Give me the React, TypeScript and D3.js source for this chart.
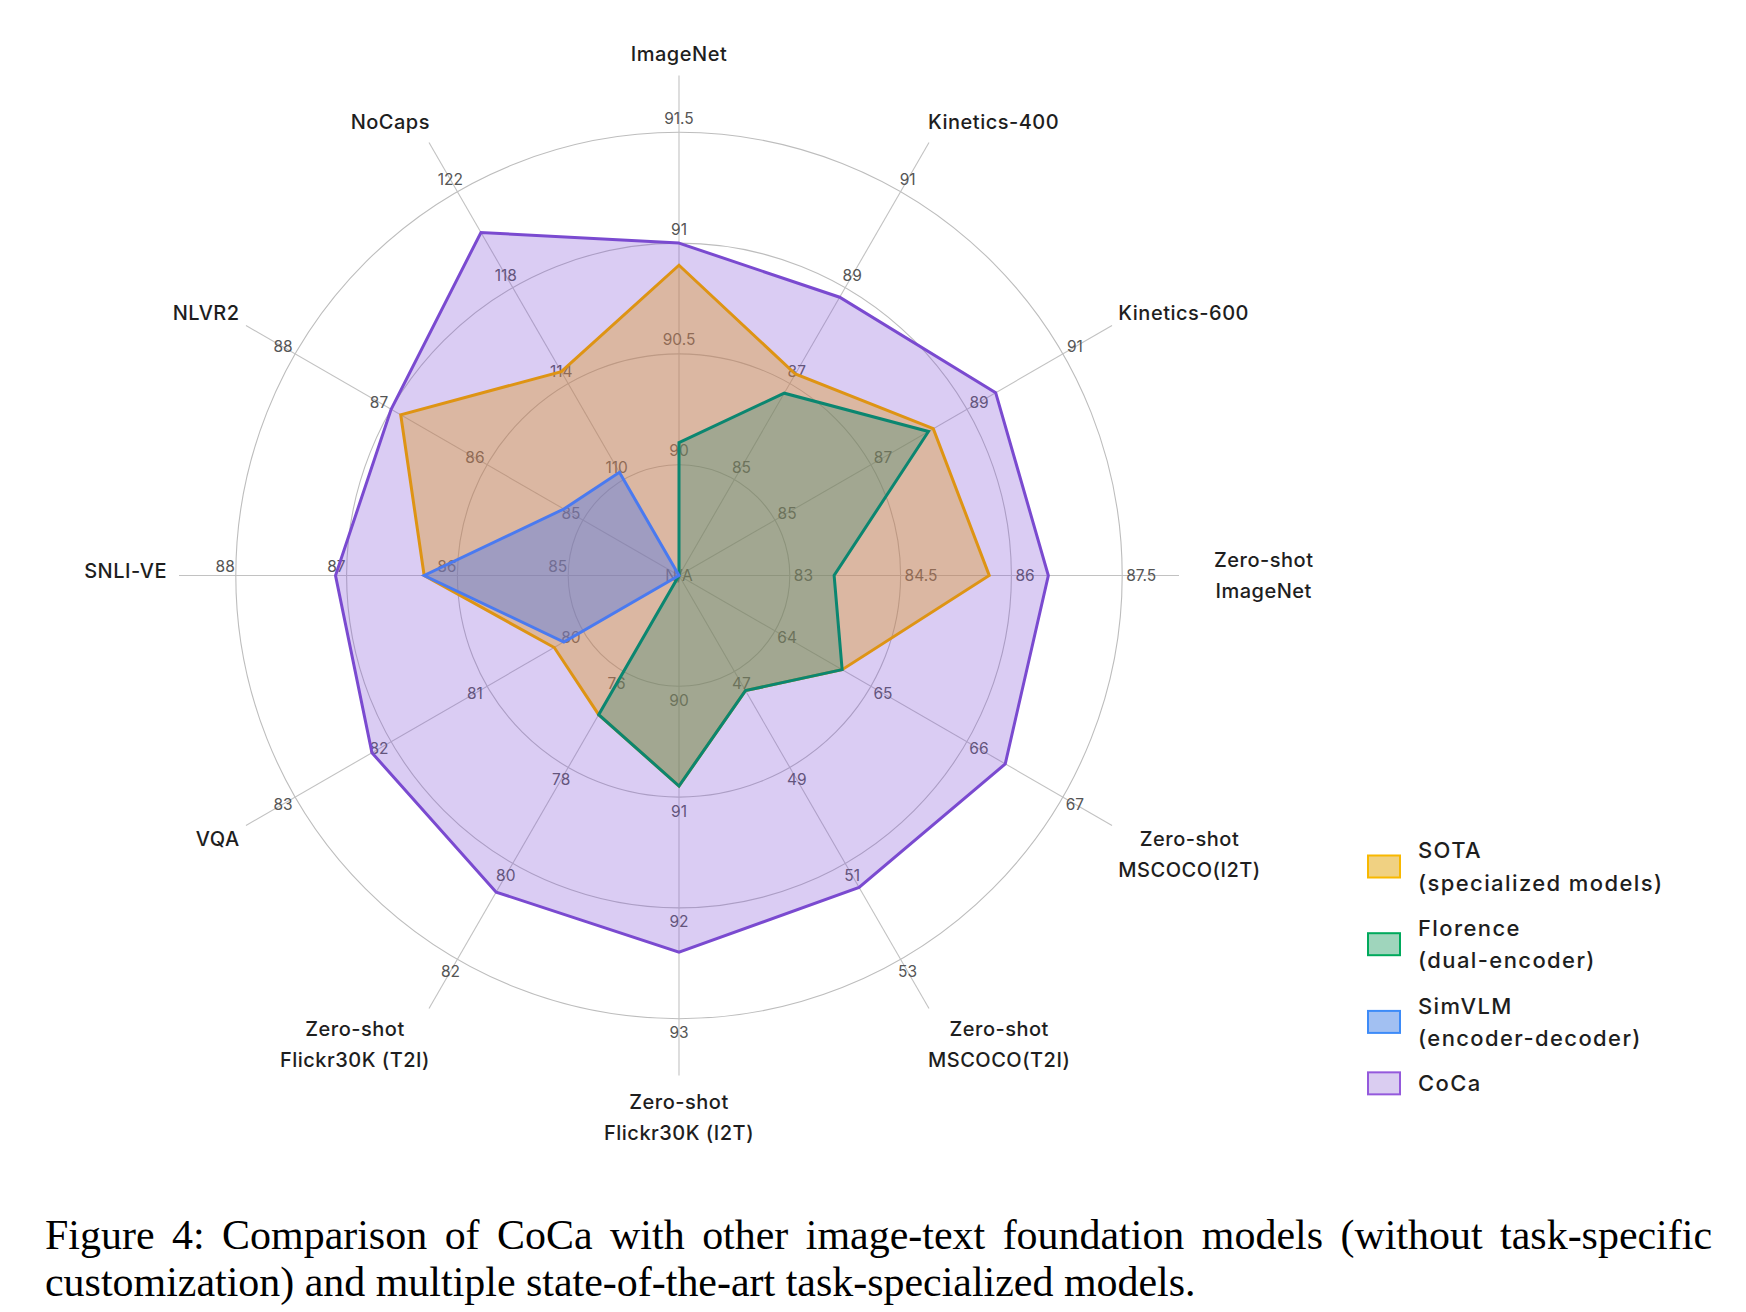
import React, { useEffect, useRef } from 'react';
import * as d3 from 'd3';

// Axes, clockwise from the top
const axisNames: string[][] = [
  ['ImageNet'],
  ['Kinetics-400'],
  ['Kinetics-600'],
  ['Zero-shot', 'ImageNet'],
  ['Zero-shot', 'MSCOCO(I2T)'],
  ['Zero-shot', 'MSCOCO(T2I)'],
  ['Zero-shot', 'Flickr30K (I2T)'],
  ['Zero-shot', 'Flickr30K (T2I)'],
  ['VQA'],
  ['SNLI-VE'],
  ['NLVR2'],
  ['NoCaps'],
];

// tick labels on rings 1..4 of every axis
const axisTicks: number[][] = [
  [90, 90.5, 91, 91.5],
  [85, 87, 89, 91],
  [85, 87, 89, 91],
  [83, 84.5, 86, 87.5],
  [64, 65, 66, 67],
  [47, 49, 51, 53],
  [90, 91, 92, 93],
  [76, 78, 80, 82],
  [80, 81, 82, 83],
  [85, 86, 87, 88],
  [85, 86, 87, 88],
  [110, 114, 118, 122],
];

// null = N/A (drawn at the centre)
const sota = [90.9, 87.2, 88.3, 85.7, 64.7, 47.4, 90.9, 76.9, 80.3, 86.3, 86.9, 114.5];
const florence = [90.1, 86.8, 88.2, 83.6, 64.7, 47.4, 90.9, 76.9, null, null, null, null];
const simvlm = [null, null, null, null, null, null, null, null, 80.2, 86.3, 85.2, 110.3];
const coca = [91.0, 88.8, 89.6, 86.5, 66.4, 51.5, 92.4, 80.6, 82.2, 87.1, 87.0, 120.3];

const legendLabels: string[][] = [
  ['SOTA', '(specialized models)'],
  ['Florence', '(dual-encoder)'],
  ['SimVLM', '(encoder-decoder)'],
  ['CoCa'],
];

const captionLines = [
  'Figure 4: Comparison of CoCa with other image-text foundation models (without task-specific',
  'customization) and multiple state-of-the-art task-specialized models.',
];

const W = 1746;
const H = 1312;
const CX = 679;
const CY = 575.5;
const RING = 110.8;
const N_RINGS = 4;
const SPOKE = 500;
const SANS = 'Inter, "Noto Sans", "DejaVu Sans", sans-serif';
const SERIF = '"Liberation Serif", "Times New Roman", serif';

const App: React.FC = () => {
  const svgRef = useRef<SVGSVGElement>(null);

  useEffect(() => {
    document.body.style.margin = '0';
    if (!svgRef.current) return;
    const svg = d3.select(svgRef.current);
    svg.selectAll('*').remove();

    const n = axisNames.length;
    const angle = (i: number) => (i * 2 * Math.PI) / n;
    const rMax = RING * N_RINGS;
    const scales = axisTicks.map(t =>
      d3.scaleLinear().domain([t[0] - (t[1] - t[0]), t[t.length - 1]]).range([0, rMax])
    );

    const series = [
      { key: 'CoCa', values: coca, stroke: '#7a4ad0', fill: '#8656d6', op: 0.3 },
      { key: 'SOTA', values: sota, stroke: '#de9414', fill: '#de9414', op: 0.36 },
      { key: 'Florence', values: florence, stroke: '#0b8670', fill: '#1e836b', op: 0.3 },
      { key: 'SimVLM', values: simvlm, stroke: '#4a7af0', fill: '#4672f0', op: 0.4 },
    ];

    // Grid rings
    svg.append('g')
      .selectAll('circle')
      .data(d3.range(1, N_RINGS + 1))
      .join('circle')
      .attr('cx', CX)
      .attr('cy', CY)
      .attr('r', d => d * RING)
      .attr('fill', 'none')
      .attr('stroke', '#bdbdbd')
      .attr('stroke-width', 1.1);

    // Spokes
    svg.append('g')
      .selectAll('line')
      .data(d3.range(n))
      .join('line')
      .attr('x1', CX)
      .attr('y1', CY)
      .attr('x2', i => CX + SPOKE * Math.sin(angle(i)))
      .attr('y2', i => CY - SPOKE * Math.cos(angle(i)))
      .attr('stroke', '#c2c2c2')
      .attr('stroke-width', 1.1);

    // Tick labels (under the fills)
    const tickG = svg.append('g')
      .attr('font-family', SANS)
      .attr('font-size', 15.5)
      .attr('fill', '#555');
    axisTicks.forEach((ticks, i) => {
      const s = Math.sin(angle(i));
      const c = Math.cos(angle(i));
      ticks.forEach(t => {
        const r = scales[i](t);
        let x = CX + r * s;
        let y = CY - r * c;
        let anchor = 'middle';
        if (Math.abs(c) < 0.01) {
          if (s > 0) { x += 4; anchor = 'start'; }
          else { x -= 1; y -= 9.5; anchor = 'end'; }
        } else {
          x += s * 14;
          y -= c * 14;
        }
        tickG.append('text')
          .attr('x', x)
          .attr('y', y)
          .attr('dy', '0.36em')
          .attr('text-anchor', anchor)
          .text(String(t));
      });
    });
    tickG.append('text')
      .attr('x', CX)
      .attr('y', CY)
      .attr('dy', '0.36em')
      .attr('text-anchor', 'middle')
      .text('N/A');

    // Series polygons
    const radial = d3.lineRadial<number | null>()
      .angle((_, i) => angle(i))
      .radius((v, i) => (v == null ? 0 : scales[i](v)))
      .curve(d3.curveLinearClosed);

    const polyG = svg.append('g').attr('transform', `translate(${CX},${CY})`);
    series.forEach(s => {
      polyG.append('path')
        .attr('d', radial(s.values) || '')
        .attr('fill', s.fill)
        .attr('fill-opacity', s.op)
        .attr('stroke', s.stroke)
        .attr('stroke-width', 3);
    });

    // Axis names
    const labelG = svg.append('g')
      .attr('font-family', SANS)
      .attr('font-size', 20)
      .attr('font-weight', 500)
      .attr('letter-spacing', 0.5)
      .attr('fill', '#1e1e1e');
    const lineH = 31;
    axisNames.forEach((lines, i) => {
      const s = Math.sin(angle(i));
      const c = Math.cos(angle(i));
      const R = 520;
      const horiz = Math.abs(c) < 0.01;
      const vert = Math.abs(s) < 0.01;
      let x = CX + R * s;
      let y = CY - R * c;
      if (horiz) {
        x += s > 0 ? 15 : 8;
        if (s < 0) y -= 4.5;
      } else if (vert) {
        if (c > 0) y -= 2;
      } else {
        x -= Math.sign(s) * 11;
        y -= 3;
      }
      const texts = lines.map(l => labelG.append('text').attr('text-anchor', 'middle').text(l));
      const bw = d3.max(texts, t => (t.node() as SVGTextElement).getComputedTextLength()) || 0;
      const xc = s > 0.01 ? x + bw / 2 : s < -0.01 ? x - bw / 2 : x;
      const y0 = c < -0.01 ? y + 6 : y - ((lines.length - 1) * lineH) / 2;
      texts.forEach((t, k) => t.attr('x', xc).attr('y', y0 + k * lineH).attr('dy', '0.36em'));
    });

    // Legend
    const legendColors = [
      { fill: '#f0d182', stroke: '#f8b800' },
      { fill: '#9fd5bc', stroke: '#00a95c' },
      { fill: '#a2c0f2', stroke: '#3d8bf8' },
      { fill: '#dacdf1', stroke: '#9459dc' },
    ];
    const legG = svg.append('g')
      .attr('font-family', SANS)
      .attr('font-size', 22)
      .attr('font-weight', 500)
      .attr('letter-spacing', 1.4)
      .attr('fill', '#1e1e1e');
    const legLine = 32.5;
    let top = 834;
    legendLabels.forEach((lines, k) => {
      const h = lines.length * legLine;
      const mid = top + h / 2;
      legG.append('rect')
        .attr('x', 1368)
        .attr('y', mid - 11)
        .attr('width', 32)
        .attr('height', 22)
        .attr('fill', legendColors[k].fill)
        .attr('stroke', legendColors[k].stroke)
        .attr('stroke-width', 2);
      lines.forEach((l, j) => {
        legG.append('text')
          .attr('x', 1418)
          .attr('y', top + legLine / 2 + j * legLine)
          .attr('dy', '0.36em')
          .text(l);
      });
      top += h + 12.7;
    });

    // Caption, justified first line
    const capG = svg.append('g').attr('font-family', SERIF).attr('fill', '#000');
    const t2 = capG.append('text').attr('x', 45).attr('y', 1296).attr('font-size', 38).text(captionLines[1]);
    const w2 = (t2.node() as SVGTextElement).getComputedTextLength();
    const fs = (38 * 1151) / w2;
    t2.attr('font-size', fs);
    const t1 = capG.append('text').attr('x', 45).attr('y', 1249).attr('font-size', fs).text(captionLines[0]);
    const w1 = (t1.node() as SVGTextElement).getComputedTextLength();
    const gaps = captionLines[0].split(' ').length - 1;
    t1.attr('word-spacing', (1667 - w1) / gaps);
  }, []);

  return (
    <svg
      ref={svgRef}
      width={W}
      height={H}
      viewBox={`0 0 ${W} ${H}`}
      style={{ position: 'absolute', left: 0, top: 0, background: '#fff' }}
    />
  );
};

export default App;
